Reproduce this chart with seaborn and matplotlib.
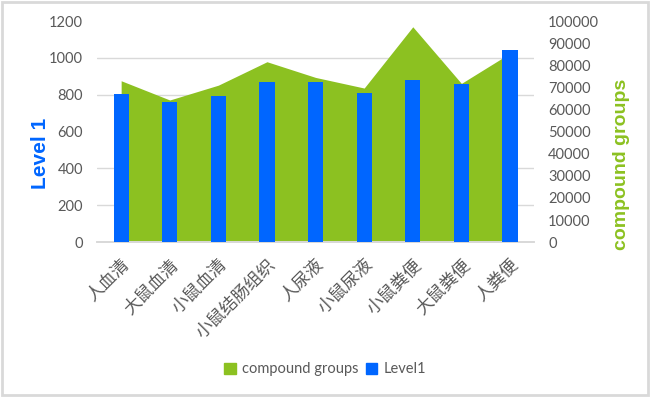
import matplotlib
matplotlib.use("Agg")
import matplotlib.pyplot as plt
import matplotlib.patches as mpatches
from matplotlib.ticker import FixedLocator
import numpy as np
import seaborn as sns

# ── Data ───────────────────────────────────────────────────────────────────
categories = ["人血清", "大鼠血清", "小鼠血清", "小鼠结肠组织", "人尿液",
              "小鼠尿液", "小鼠粪便", "大鼠粪便", "人粪便"]
level1 = [802, 761, 792, 870, 870, 811, 880, 860, 1042]
compound_groups = [73000, 64300, 71000, 81600, 74500, 69700, 97400, 71800, 85400]
left_ticks = [0, 200, 400, 600, 800, 1000, 1200]
right_ticks = list(range(0, 100001, 10000))

GREEN = "#8CC121"
BLUE = "#0066FF"
GREY = "#595959"

sns.set_theme(style="white")
plt.rcParams["font.family"] = ["Lato", "Noto Sans CJK SC", "DejaVu Sans"]

fig = plt.figure(figsize=(6.5, 3.97), dpi=100)
ax = fig.add_axes([0.149, 0.390, 0.673, 0.557])
ax2 = ax.twinx()

# area (right axis) sits behind the bars (left axis)
ax.set_zorder(ax2.get_zorder() + 1)
ax.patch.set_visible(False)

x = np.arange(len(categories))
ax2.fill_between(x, compound_groups, color=GREEN, linewidth=0, zorder=2)
ax2.set_ylim(0, 100000)
ax2.yaxis.set_major_locator(FixedLocator(right_ticks))
# gridlines aligned with the left ticks, drawn behind the area
ax2.yaxis.set_minor_locator(FixedLocator([v / 1200 * 100000 for v in left_ticks]))
ax2.grid(which="minor", axis="y", color="#D9D9D9", linewidth=1, zorder=0)
ax2.grid(which="major", visible=False)
ax2.set_axisbelow(True)
ax2.tick_params(axis="y", which="both", length=0, labelsize=10.5,
                labelcolor=GREY, pad=10)

sns.barplot(x=categories, y=level1, ax=ax, color=BLUE, width=0.31,
            saturation=1, linewidth=0, zorder=3)
ax.set_xlim(-0.5, len(categories) - 0.5)
ax.set_ylim(0, 1200)
ax.set_yticks(left_ticks)
ax.tick_params(axis="y", length=0, labelsize=10.5, labelcolor=GREY, pad=10)
ax.tick_params(axis="x", length=0, labelsize=12.5, labelcolor=GREY, pad=10)
for lbl in ax.get_xticklabels():
    lbl.set_rotation(45)
    lbl.set_ha("right")
    lbl.set_rotation_mode("anchor")

for a in (ax, ax2):
    for side in ("top", "left", "right"):
        a.spines[side].set_visible(False)
    a.spines["bottom"].set_color("#D9D9D9")

ax.set_ylabel("Level 1", color=BLUE, fontsize=15, fontweight="bold",
              family=["Liberation Sans", "DejaVu Sans"])
ax.yaxis.set_label_coords(-0.108, 0.40)
ax2.set_ylabel("compound groups", color=GREEN, fontsize=14, fontweight="bold",
               family=["Liberation Sans", "DejaVu Sans"])
ax2.yaxis.set_label_coords(1.179, 0.35)

handles = [mpatches.Patch(color=GREEN, label="compound groups"),
           mpatches.Patch(color=BLUE, label="Level1")]
fig.legend(handles=handles, loc="center", bbox_to_anchor=(0.5, 0.07),
           ncol=2, frameon=False, fontsize=10.5, labelcolor=GREY,
           handlelength=0.8, handleheight=0.8, handletextpad=0.4,
           columnspacing=0.5)

# light frame round the whole chart
fig.patches.append(mpatches.Rectangle((0.003, 0.004), 0.994, 0.992,
                                      transform=fig.transFigure, fill=False,
                                      edgecolor="#D9D9D9", linewidth=2))

fig.savefig("out.png", dpi=100)
plt.close(fig)
